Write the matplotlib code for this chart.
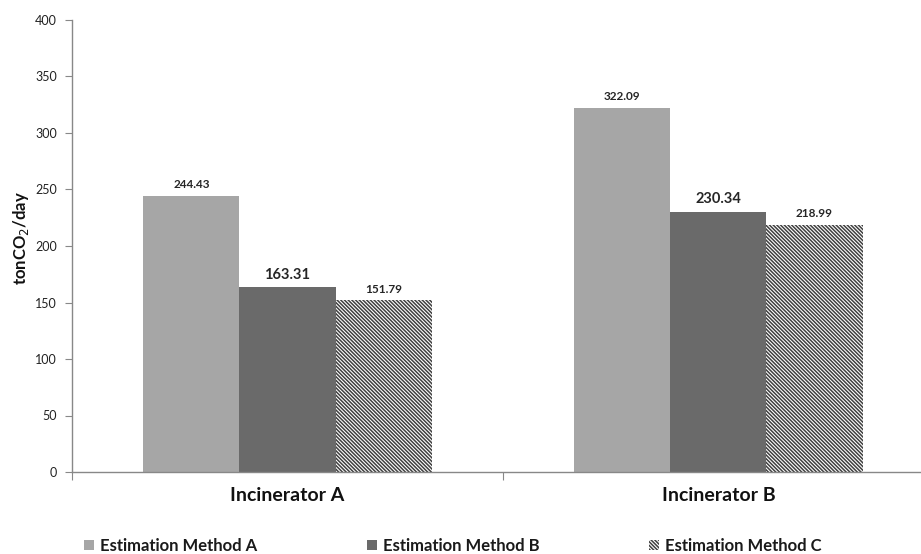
import matplotlib
matplotlib.use("Agg")
import matplotlib.pyplot as plt
import numpy as np

categories = ["Incinerator A", "Incinerator B"]
series_names = ["Estimation Method A", "Estimation Method B", "Estimation Method C"]
method_a = [244.43, 322.09]
method_b = [163.31, 230.34]
method_c = [151.79, 218.99]
yticks = [0, 50, 100, 150, 200, 250, 300, 350, 400]

plt.rcParams['font.family'] = ['Lato', 'DejaVu Sans']
plt.rcParams['hatch.color'] = '#404040'
plt.rcParams['hatch.linewidth'] = 1.1

fig = plt.figure(figsize=(9.21, 5.54), dpi=100)
ax = fig.add_axes([72/921, 1-472/554, 1-72/921, (472-20)/554])

x = np.arange(len(categories))
w = 0.223
series = [method_a, method_b, method_c]
colors = ['#a6a6a6', '#6a6a6a', 'white']
hatches = [None, None, '\\' * 9]
label_sizes = [[8.5, 8.5], [10.5, 10.5], [8.5, 8.5]]
handles = []
for i, (vals, col, h) in enumerate(zip(series, colors, hatches)):
    bars = ax.bar(x + (i-1)*w, vals, width=w, color=col, hatch=h,
                  edgecolor='none' if h is None else '#404040', linewidth=0,
                  label=series_names[i])
    handles.append(bars)
    for j, b in enumerate(bars):
        ax.text(b.get_x()+b.get_width()/2, vals[j]+5, f"{vals[j]:.2f}",
                ha='center', va='bottom', fontsize=label_sizes[i][j],
                fontweight='bold', color='#262626')

ax.set_ylim(0, 400)
ax.set_xlim(-0.5, 1.47)
ax.set_yticks(yticks)
ax.tick_params(axis='y', length=5, color='#888888', labelsize=9, labelcolor='#222222', pad=6)
ax.set_xticks([-0.5, 0.5])
ax.set_xticklabels([])
ax.tick_params(axis='x', which='major', length=6, color='#888888')
ax.set_xticks(x, minor=True)
ax.set_xticklabels(categories, minor=True, fontsize=14, fontweight='bold', color='#111111')
ax.tick_params(axis='x', which='minor', length=0, pad=11)
for s in ['top', 'right']:
    ax.spines[s].set_visible(False)
for s in ['left', 'bottom']:
    ax.spines[s].set_color('#888888')
    ax.spines[s].set_linewidth(1.0)

fig.text(21/921, 1-238/554, "tonCO$_2$/day", rotation=90, ha='center', va='center',
         fontsize=12, fontweight='bold', color='#111111')

leg = fig.legend(handles=handles, labels=series_names, loc='center left',
                 bbox_to_anchor=(84/921, 1-546/554), ncol=3, frameon=False,
                 borderpad=0, borderaxespad=0,
                 prop={'size': 12, 'weight': 'bold'}, handlelength=0.6, handleheight=0.6,
                 handletextpad=0.35, columnspacing=6.6)
for t in leg.get_texts():
    t.set_color('#1a1a1a')

fig.savefig("out.png", dpi=100)
